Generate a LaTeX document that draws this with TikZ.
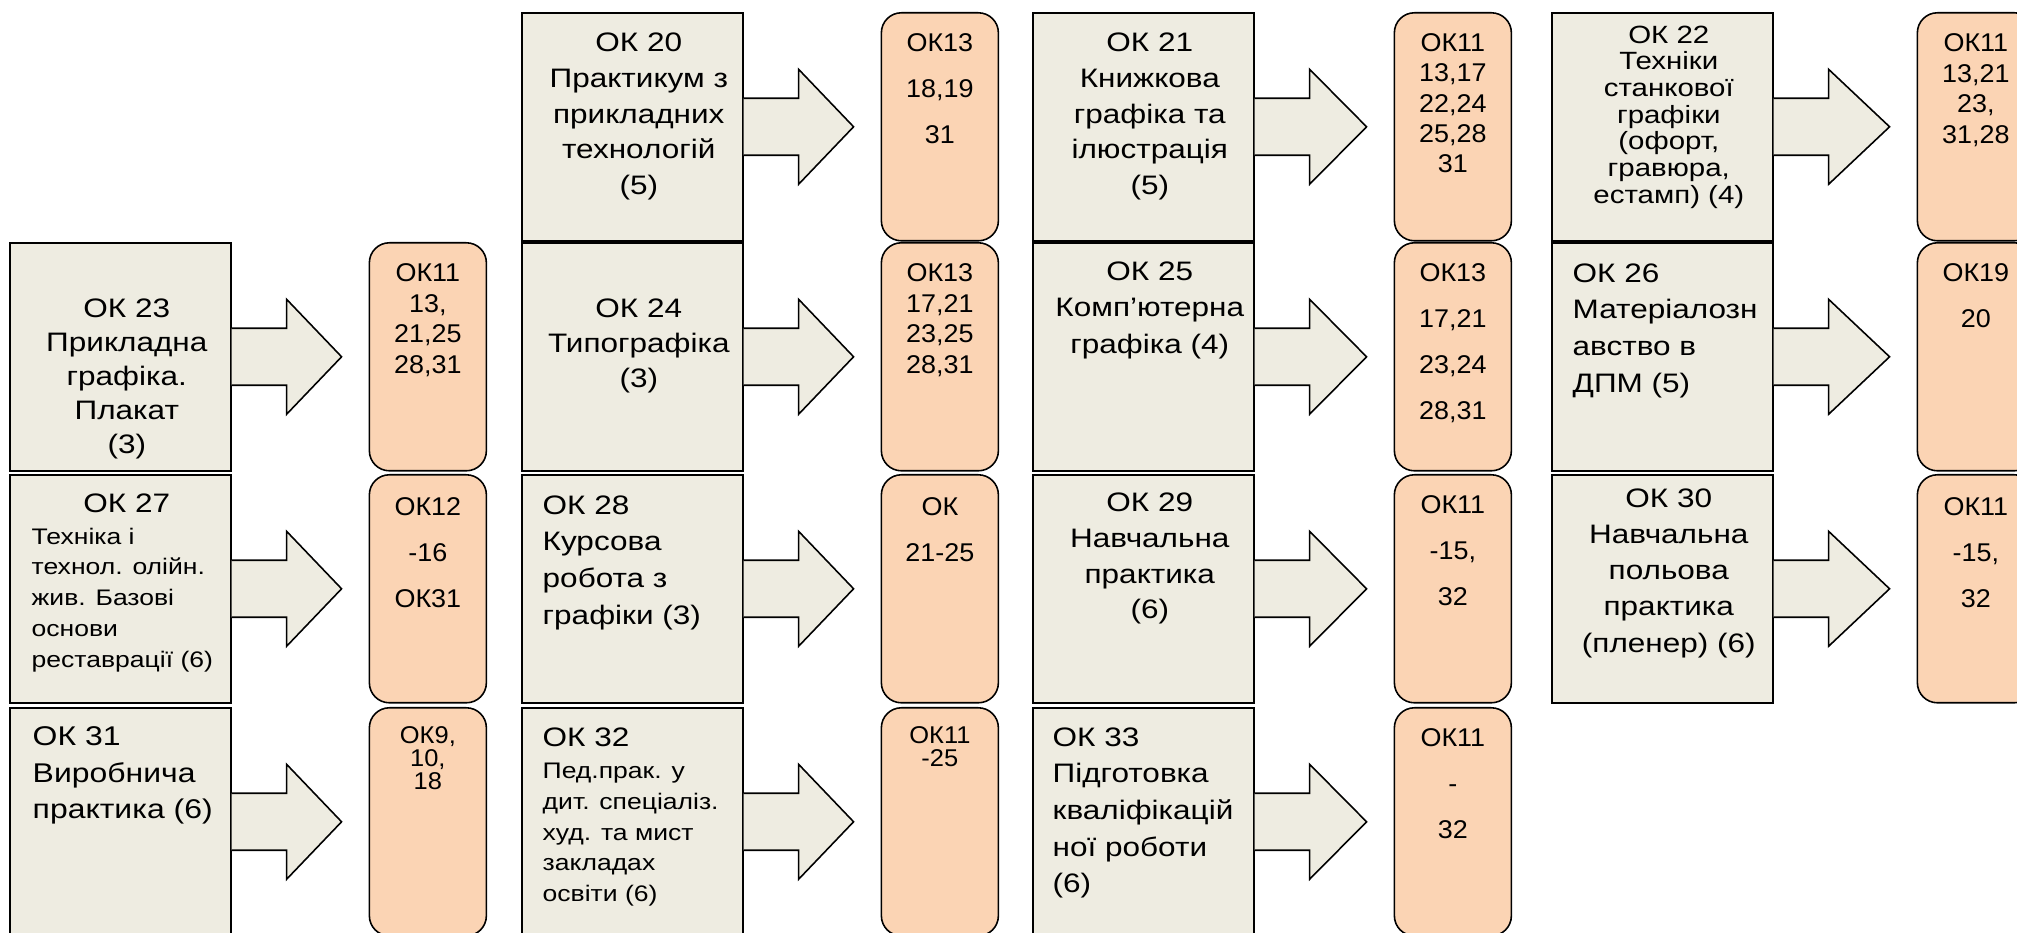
\documentclass[tikz,border=0pt]{standalone}
\usepackage{fontspec}
\setmainfont{Liberation Sans}[FakeStretch=1.18]
\newfontfamily\tallfont{Liberation Sans}[FakeStretch=1.05]
\usetikzlibrary{positioning}

\definecolor{beige}{HTML}{EEECE1}
\definecolor{fersken}{HTML}{FBD4B4}

%Blokkpil fra boks til liste
\newcommand{\blokkpil}[2]{%
    \filldraw[pil] ([yshift=2.85mm]#1.east) -- ([xshift=5.5mm,yshift=2.85mm]#1.east)
        -- ([xshift=5.5mm,yshift=5.75mm]#1.east) -- ([xshift=-2.7mm]#2.west)
        -- ([xshift=5.5mm,yshift=-5.75mm]#1.east) -- ([xshift=5.5mm,yshift=-2.85mm]#1.east)
        -- ([yshift=-2.85mm]#1.east);}

\begin{document}
\begin{tikzpicture}[
    kboks/.style={draw, fill=beige, line width=0.45pt, minimum width=2.21cm, minimum height=2.28cm, inner sep=0, anchor=north west},
    kliste/.style={draw, fill=fersken, line width=0.45pt, rounded corners=0.2cm, minimum width=1.17cm, minimum height=2.28cm, inner sep=0},
    pil/.style={fill=beige, draw=black, line width=0.45pt},
    ktekst/.style={inner sep=0, align=center, font=\fontsize{7.6}{10.2}\selectfont},
    vtekst/.style={inner sep=0, align=left, font=\fontsize{7.6}{10.4}\selectfont},
    smaltekst/.style={inner sep=0, align=left, font=\fontsize{6.4}{8.8}\selectfont},
    ltekst/.style={inner sep=0, align=center, font=\tallfont\fontsize{7.3}{8.7}\selectfont},
    ltekstv/.style={ltekst, font=\tallfont\fontsize{7.3}{13.1}\selectfont},
    ltekstt/.style={ltekst, font=\tallfont\fontsize{6.9}{6.5}\selectfont}]
    \useasboundingbox (0,0) rectangle (20.17,9.32);

    %Kolonne 1
        \node[kboks] (k23) at (0.09,6.90) {};
        \node[kboks] (k27) at (0.09,4.58) {};
        \node[kboks] (k31) at (0.09,2.25) {};
        \node[kliste, right=1.37cm of k23] (l23) {};
        \node[kliste, right=1.37cm of k27] (l27) {};
        \node[kliste, right=1.37cm of k31] (l31) {};
        \blokkpil{k23}{l23}
        \blokkpil{k27}{l27}
        \blokkpil{k31}{l31}
        \node[ktekst, font=\fontsize{7.6}{9.7}\selectfont, below=0.56cm of k23.north, xshift=0.065cm] (t23) {ОК 23\\Прикладна\\графіка.\\Плакат\\(3)};
        \node[ktekst, below=0.19cm of k27.north, xshift=0.065cm] (t27) {ОК 27};
        \node[smaltekst, below right=0.53cm and 0.22cm of k27.north west] (t27a) {Техніка і\\технол. олійн.\\жив. Базові\\основи\\реставрації (6)};
        \node[vtekst, font=\fontsize{7.7}{10.4}\selectfont, below right=0.19cm and 0.23cm of k31.north west] (t31) {ОК 31\\Виробнича\\практика (6)};
        \node[ltekst, below=0.21cm of l23.north] (m23) {ОК11\\13,\\21,25\\28,31};
        \node[ltekstv, below=0.23cm of l27.north] (m27) {ОК12\\-16\\ОК31};
        \node[ltekstt, below=0.19cm of l31.north] (m31) {ОК9,\\10,\\18};

    %Kolonne 2
        \node[kboks] (k20) at (5.21,9.20) {};
        \node[kboks] (k24) at (5.21,6.90) {};
        \node[kboks] (k28) at (5.21,4.58) {};
        \node[kboks] (k32) at (5.21,2.25) {};
        \node[kliste, right=1.37cm of k20] (l20) {};
        \node[kliste, right=1.37cm of k24] (l24) {};
        \node[kliste, right=1.37cm of k28] (l28) {};
        \node[kliste, right=1.37cm of k32] (l32) {};
        \blokkpil{k20}{l20}
        \blokkpil{k24}{l24}
        \blokkpil{k28}{l28}
        \blokkpil{k32}{l32}
        \node[ktekst, below=0.20cm of k20.north, xshift=0.065cm] (t20) {ОК 20\\Практикум з\\прикладних\\технологій\\(5)};
        \node[ktekst, font=\fontsize{7.6}{10}\selectfont, below=0.56cm of k24.north, xshift=0.065cm] (t24) {ОК 24\\Типографіка\\(3)};
        \node[vtekst, below right=0.21cm and 0.21cm of k28.north west] (t28) {ОК 28\\Курсова\\робота з\\графіки (3)};
        \node[vtekst, below right=0.20cm and 0.21cm of k32.north west] (t32) {ОК 32};
        \node[smaltekst, below right=0.55cm and 0.21cm of k32.north west] (t32a) {Пед.прак. у\\дит. спеціаліз.\\худ. та мист\\закладах\\освіти (6)};
        \node[ltekstv, below=0.21cm of l20.north] (m20) {ОК13\\18,19\\31};
        \node[ltekst, below=0.21cm of l24.north] (m24) {ОК13\\17,21\\23,25\\28,31};
        \node[ltekstv, below=0.23cm of l28.north] (m28) {ОК\\21-25};
        \node[ltekstt, below=0.19cm of l32.north] (m32) {ОК11\\-25};

    %Kolonne 3
        \node[kboks] (k21) at (10.32,9.20) {};
        \node[kboks] (k25) at (10.32,6.90) {};
        \node[kboks] (k29) at (10.32,4.58) {};
        \node[kboks] (k33) at (10.32,2.25) {};
        \node[kliste, right=1.39cm of k21] (l21) {};
        \node[kliste, right=1.39cm of k25] (l25) {};
        \node[kliste, right=1.39cm of k29] (l29) {};
        \node[kliste, right=1.39cm of k33] (l33) {};
        \blokkpil{k21}{l21}
        \blokkpil{k25}{l25}
        \blokkpil{k29}{l29}
        \blokkpil{k33}{l33}
        \node[ktekst, below=0.20cm of k21.north, xshift=0.065cm] (t21) {ОК 21\\Книжкова\\графіка та\\ілюстрація\\(5)};
        \node[ktekst, font=\fontsize{7.6}{10.4}\selectfont, below=0.19cm of k25.north, xshift=0.065cm] (t25) {ОК 25\\Комп’ютерна\\графіка (4)};
        \node[ktekst, below=0.18cm of k29.north, xshift=0.065cm] (t29) {ОК 29\\Навчальна\\практика\\(6)};
        \node[vtekst, below right=0.20cm and 0.20cm of k33.north west] (t33) {ОК 33\\Підготовка\\кваліфікацій\\ної роботи\\(6)};
        \node[ltekst, font=\tallfont\fontsize{7.3}{8.6}\selectfont, below=0.21cm of l21.north] (m21) {ОК11\\13,17\\22,24\\25,28\\31};
        \node[ltekstv, below=0.21cm of l25.north] (m25) {ОК13\\17,21\\23,24\\28,31};
        \node[ltekstv, below=0.21cm of l29.north] (m29) {ОК11\\-15,\\32};
        \node[ltekstv, below=0.21cm of l33.north] (m33) {ОК11\\-\\32};

    %Kolonne 4
        \node[kboks] (k22) at (15.51,9.20) {};
        \node[kboks] (k26) at (15.51,6.90) {};
        \node[kboks] (k30) at (15.51,4.58) {};
        \node[kliste, right=1.43cm of k22] (l22) {};
        \node[kliste, right=1.43cm of k26] (l26) {};
        \node[kliste, right=1.43cm of k30] (l30) {};
        \blokkpil{k22}{l22}
        \blokkpil{k26}{l26}
        \blokkpil{k30}{l30}
        \node[ktekst, font=\fontsize{7.1}{7.6}\selectfont, below=0.13cm of k22.north, xshift=0.065cm] (t22) {ОК 22\\Техніки\\станкової\\графіки\\(офорт,\\гравюра,\\естамп) (4)};
        \node[vtekst, below right=0.21cm and 0.21cm of k26.north west] (t26) {ОК 26\\Матеріалозн\\авство в\\ДПМ (5)};
        \node[ktekst, font=\fontsize{7.6}{10.3}\selectfont, below=0.14cm of k30.north, xshift=0.065cm] (t30) {ОК 30\\Навчальна\\польова\\практика\\(пленер) (6)};
        \node[ltekst, below=0.21cm of l22.north] (m22) {ОК11\\13,21\\23,\\31,28};
        \node[ltekstv, below=0.21cm of l26.north] (m26) {ОК19\\20};
        \node[ltekstv, below=0.23cm of l30.north] (m30) {ОК11\\-15,\\32};

\end{tikzpicture}
\end{document}
